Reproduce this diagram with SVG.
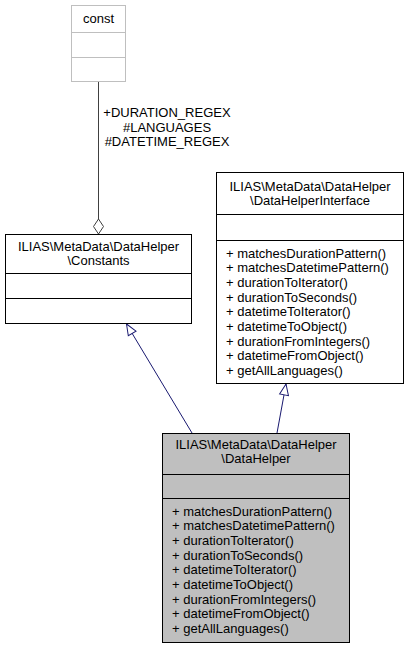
<svg xmlns="http://www.w3.org/2000/svg" width="408" height="648" viewBox="0 0 408 648">
<style>
text{font-family:"Liberation Sans",Arial,Helvetica,sans-serif;font-size:13px;fill:#000}
.c{text-anchor:middle}
.box{fill:#fff;stroke:#000;stroke-width:1}
.gbox{fill:#bfbfbf;stroke:#000;stroke-width:1}
.ubox{fill:#fff;stroke:#bfbfbf;stroke-width:1}
.dv{stroke:#000;stroke-width:1}
.udv{stroke:#bfbfbf;stroke-width:1}
.inh{stroke:#191970;stroke-width:1;fill:none}
.use{stroke:#404040;stroke-width:1;fill:none}
</style>
<defs>
<marker id="tri" markerUnits="userSpaceOnUse" markerWidth="12" markerHeight="10" refX="11" refY="4.5" orient="auto" overflow="visible">
<polygon points="0,0 11,4.5 0,9" fill="#fff" stroke="#191970" stroke-width="1"/>
</marker>
<marker id="dia" markerUnits="userSpaceOnUse" markerWidth="16" markerHeight="12" refX="15" refY="5" orient="auto" overflow="visible">
<polygon points="0,5 7.5,0 15,5 7.5,10" fill="#fff" stroke="#404040" stroke-width="1"/>
</marker>
</defs>
<g id="connectors">
<line class="use" x1="98.5" y1="82" x2="98.5" y2="234" marker-end="url(#dia)"/>
<text class="c" x="167" y="117">+DURATION_REGEX</text>
<text class="c" x="167" y="131.7">#LANGUAGES</text>
<text class="c" x="167" y="146.4">#DATETIME_REGEX</text>
<line class="inh" x1="192" y1="433" x2="126.5" y2="324" marker-end="url(#tri)"/>
<line class="inh" x1="277" y1="433" x2="286" y2="384" marker-end="url(#tri)"/>
</g>
<g id="const">
<rect class="ubox" x="71.5" y="5.5" width="54" height="76"/>
<line class="udv" x1="71.5" y1="32.5" x2="125.5" y2="32.5"/>
<line class="udv" x1="71.5" y1="57.5" x2="125.5" y2="57.5"/>
<text class="c" x="98.5" y="22.5">const</text>
</g>
<g id="Constants">
<rect class="box" x="5.5" y="234.5" width="186" height="89"/>
<line class="dv" x1="5.5" y1="273.5" x2="191.5" y2="273.5"/>
<line class="dv" x1="5.5" y1="298.5" x2="191.5" y2="298.5"/>
<text class="c" x="98.5" y="250.5">ILIAS\MetaData\DataHelper</text>
<text class="c" x="98.5" y="265.2">\Constants</text>
</g>
<g id="DataHelperInterface">
<rect class="box" x="216.5" y="172.5" width="187" height="211"/>
<line class="dv" x1="216.5" y1="214.5" x2="403.5" y2="214.5"/>
<line class="dv" x1="216.5" y1="240.5" x2="403.5" y2="240.5"/>
<text class="c" x="310" y="190.5">ILIAS\MetaData\DataHelper</text>
<text class="c" x="310" y="205.2">\DataHelperInterface</text>
<text x="226" y="257.5">+ matchesDurationPattern()</text>
<text x="226" y="272.2">+ matchesDatetimePattern()</text>
<text x="226" y="286.9">+ durationToIterator()</text>
<text x="226" y="301.6">+ durationToSeconds()</text>
<text x="226" y="316.3">+ datetimeToIterator()</text>
<text x="226" y="331">+ datetimeToObject()</text>
<text x="226" y="345.7">+ durationFromIntegers()</text>
<text x="226" y="360.4">+ datetimeFromObject()</text>
<text x="226" y="375.1">+ getAllLanguages()</text>
</g>
<g id="DataHelper">
<rect class="gbox" x="162.5" y="433.5" width="187" height="209"/>
<line class="dv" x1="162.5" y1="474.5" x2="349.5" y2="474.5"/>
<line class="dv" x1="162.5" y1="498.5" x2="349.5" y2="498.5"/>
<text class="c" x="256" y="448.5">ILIAS\MetaData\DataHelper</text>
<text class="c" x="256" y="463.2">\DataHelper</text>
<text x="172" y="515.5">+ matchesDurationPattern()</text>
<text x="172" y="530.2">+ matchesDatetimePattern()</text>
<text x="172" y="544.9">+ durationToIterator()</text>
<text x="172" y="559.6">+ durationToSeconds()</text>
<text x="172" y="574.3">+ datetimeToIterator()</text>
<text x="172" y="589">+ datetimeToObject()</text>
<text x="172" y="603.7">+ durationFromIntegers()</text>
<text x="172" y="618.4">+ datetimeFromObject()</text>
<text x="172" y="633.1">+ getAllLanguages()</text>
</g>
</svg>
